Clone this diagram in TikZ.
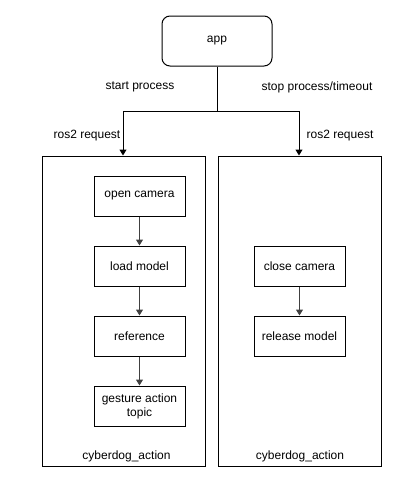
\documentclass[tikz,border=0pt]{standalone}
\usepackage{fontspec}
\setmainfont{Liberation Sans}
\usetikzlibrary{arrows.meta}
\begin{document}
\begin{tikzpicture}[x=1pt,y=-1pt,
  every node/.style={font=\fontsize{12}{14}\selectfont},
  box/.style={draw, line width=1pt, minimum width=91pt, minimum height=40pt, align=center, inner sep=0pt},
  cont/.style={draw, line width=1pt, minimum width=163pt, minimum height=310pt, inner sep=0pt},
  lbl/.style={inner sep=0pt, anchor=center},
  conn/.style={line width=1pt, draw=black!75, -{Triangle[width=7pt,length=6pt]}}
]
\useasboundingbox (0,0) rectangle (413,482);
\node[draw, line width=1pt, rounded corners=8pt, minimum width=110pt, minimum height=50pt] (app) at (217,41) {app};
\node[cont] (lc) at (123.5,311) {};
\node[cont] (rc) at (299.5,311) {};
\node[box] (oc) at (139.5,196) {open camera};
\node[box] (lm) at (139.5,266) {load model};
\node[box] (rf) at (139.5,336) {reference};
\node[box] (ga) at (139.5,406) {gesture action\\topic};
\node[box] (cc) at (299.5,266) {close camera};
\node[box] (rm) at (299.5,336) {release model};
\node[lbl] (lcl) at (126.5,456) {cyberdog\_action};
\node[lbl] (rcl) at (300,456) {cyberdog\_action};
\node[lbl] (sp) at (140,87) {start process};
\node[lbl] (stp) at (317,87) {stop process/timeout};
\node[lbl] (r1) at (87,136) {ros2 request};
\node[lbl] (r2) at (340,136) {ros2 request};
\coordinate (split) at (217,111);
\draw[line width=1pt, draw=black] (app.south) -- (split);
\draw[conn, draw=black] (split) -| (lc.north -| 123,0);
\draw[conn, draw=black] (split) -| (rc.north -| 299,0);
\draw[conn] (oc) -- (lm);
\draw[conn] (lm) -- (rf);
\draw[conn] (rf) -- (ga);
\draw[conn] (cc) -- (rm);
\end{tikzpicture}
\end{document}
